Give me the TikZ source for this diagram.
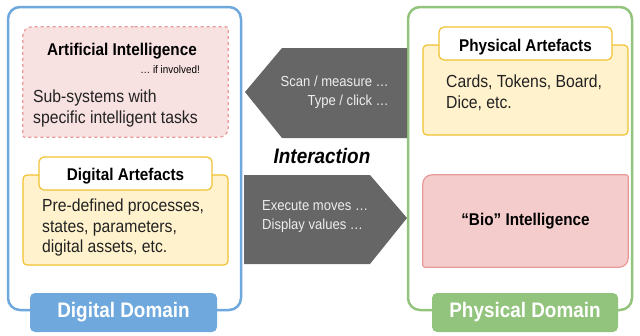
\documentclass[tikz,border=0pt]{standalone}
\usepackage{fontspec}
\setmainfont{Liberation Sans}[FakeStretch=0.9]
\usetikzlibrary{positioning,backgrounds}
\definecolor{domblue}{HTML}{6FA8DC}
\definecolor{domgreen}{HTML}{93C47D}
\definecolor{artline}{HTML}{F1C232}
\definecolor{artfill}{HTML}{FFF2CC}
\definecolor{bioline}{HTML}{EA9999}
\definecolor{biofill}{HTML}{F4CCCC}
\definecolor{aifill}{HTML}{F8E1E1}
\definecolor{arrowgrey}{HTML}{666666}
\definecolor{arrowtext}{HTML}{EEEEEE}
\definecolor{bodyink}{HTML}{222222}
\tikzset{
  domainbox/.style={draw,line width=2.5pt,rounded corners=12pt,inner sep=0pt},
  domlabel/.style={fill,rounded corners=5pt,text=white,inner sep=0pt,
    minimum height=39pt,font=\bfseries\fontsize{21}{24}\selectfont},
  artbox/.style={draw=artline,fill=artfill,line width=1.2pt,rounded corners=4pt,
    minimum width=205pt,minimum height=90pt,inner sep=0pt},
  arttab/.style={draw=artline,fill=white,line width=1.2pt,rounded corners=5pt,
    minimum width=173pt,minimum height=33pt,inner sep=0pt},
  boxnode/.style={minimum width=205pt,inner sep=0pt},
  boxtitle/.style={font=\bfseries\fontsize{17}{20}\selectfont},
  bodytext/.style={align=left,inner sep=0pt,anchor=north west,text=bodyink,
    font=\fontsize{17.5}{20.5}\selectfont},
  arrowtxt/.style={text=arrowtext,inner sep=0pt,font=\fontsize{14.5}{19}\selectfont}
}
% box with two round and two near-square corners
\newcommand{\diagbox}[2]{%
  \path[#2] (#1.north) [rounded corners=2pt] -- (#1.north east)
    [rounded corners=9pt] -- (#1.south east) -- (#1.south)
    [rounded corners=2pt] -- (#1.south west)
    [rounded corners=9pt] -- (#1.north west) -- cycle;}

\begin{document}
\begin{tikzpicture}[x=1pt,y=-1pt]
	\useasboundingbox (0,0) rectangle (640,335);
	% domains
	\node[domainbox,draw=domblue,minimum width=233pt,minimum height=303pt] (digital) at (124.5,158.5) {};
	\node[domainbox,draw=domgreen,minimum width=224pt,minimum height=303pt] (physical) at (520,158.5) {};
	\node[domlabel,fill=domblue,minimum width=187pt] (diglabel) at (123.5,312.5) {Digital Domain};
	\node[domlabel,fill=domgreen,minimum width=186pt] (phylabel) at (525,312.5) {Physical Domain};
	%
	% interaction arrows
	\fill[arrowgrey] (407,48) -- (282,48) -- (245,92) -- (282,138) -- (407,138) -- cycle;
	\fill[arrowgrey] (244,175) -- (370,175) -- (407,218) -- (370,264) -- (244,264) -- cycle;
	\node[arrowtxt,align=right,anchor=north east] (scan) at (389,76) {Scan / measure …\\Type / click …};
	\node[arrowtxt,align=left,anchor=north west] (exec) at (262,200) {Execute moves …\\Display values …};
	\node[font=\bfseries\itshape\fontsize{21}{24}\selectfont,inner sep=0pt] (inter) at (322,156) {Interaction};
	%
	% artificial intelligence
	\node[boxnode,minimum height=110pt] (ai) at (125.5,82) {};
	\node[boxtitle,anchor=base] (aititle) at (122,55) {Artificial Intelligence};
	\node[font=\fontsize{11}{13}\selectfont,anchor=base east,inner sep=0pt] (aiif) at (200,73) {… if involved!};
	\node[bodytext] (aibody) at (33,90) {Sub-systems with\\specific intelligent tasks};
	%
	% digital artefacts
	\node[artbox] (digart) at (125.5,220) {};
	\node[arttab] (digtab) at (125.5,173.5) {};
	\node[boxtitle,anchor=base] at (digtab.center |- 0,180) {Digital Artefacts};
	\node[bodytext] (digbody) at (42,199) {Pre-defined processes,\\states, parameters,\\digital assets, etc.};
	%
	% physical artefacts
	\node[artbox] (phyart) at (525.5,90) {};
	\node[arttab] (phytab) at (525.5,43.5) {};
	\node[boxtitle,anchor=base] at (phytab.center |- 0,51) {Physical Artefacts};
	\node[bodytext] (phybody) at (446,75) {Cards, Tokens, Board,\\Dice, etc.};
	%
	% bio intelligence
	\node[boxnode,minimum height=92pt,boxtitle] (bio) at (525.5,221) {``Bio'' Intelligence};
	%
	\begin{scope}[on background layer]
		\diagbox{ai}{draw=bioline,fill=aifill,line width=1.2pt,dashed}
		\diagbox{bio}{draw=bioline,fill=biofill,line width=1.2pt}
	\end{scope}
\end{tikzpicture}
\end{document}
